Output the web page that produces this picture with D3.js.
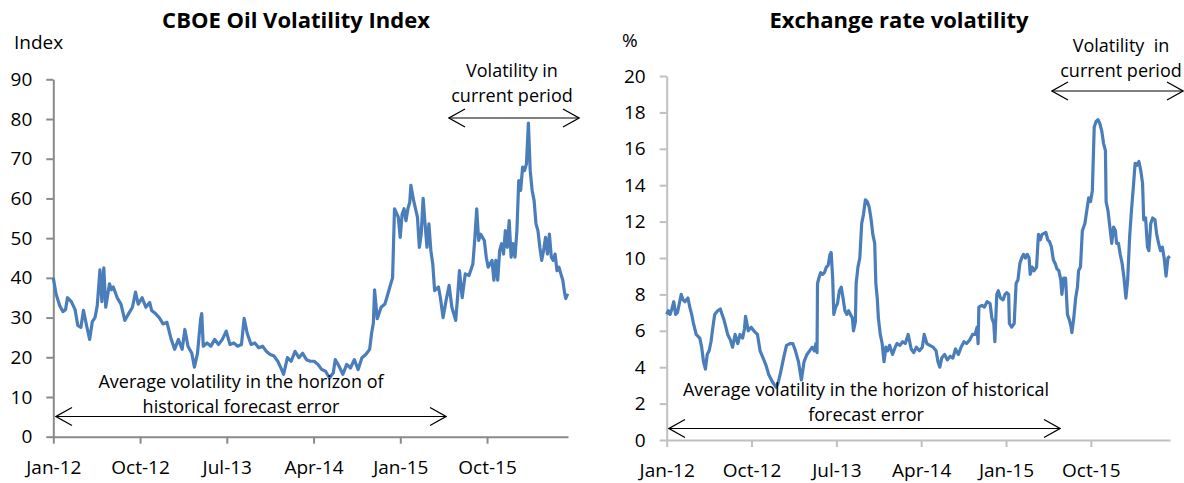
<!DOCTYPE html>
<html lang="en">
<head>
<meta charset="utf-8">
<title>Oil and exchange rate volatility</title>
<style>
  body { margin: 0; background: #fff; }
  svg text { font-family: "Open Sans", "Noto Sans", sans-serif; fill: #000; }
  .title { font-weight: bold; font-size: 22px; }
  .note { font-size: 18px; }
  .axis text { font-size: 19px; }
</style>
</head>
<body>
<script src="https://cdnjs.cloudflare.com/ajax/libs/d3/7.8.5/d3.min.js"></script>
<script>
// x positions are months since Jan 2012
const xTickMonths = [0, 9, 18, 27, 36, 45];
const xTickLabels = ['Jan-12', 'Oct-12', 'Jul-13', 'Apr-14', 'Jan-15', 'Oct-15'];
const lastMonth = 53.4;

const oilTicks = [0, 10, 20, 30, 40, 50, 60, 70, 80, 90];
const fxTicks = [0, 2, 4, 6, 8, 10, 12, 14, 16, 18, 20];

// CBOE oil volatility index
const oilMonths = [
  0, 0.28, 0.67, 0.99, 1.27, 1.47, 1.87, 2.26, 2.54, 2.86,
  3.13, 3.45, 3.77, 4.05, 4.33, 4.56, 4.84, 5.04, 5.24, 5.44,
  5.83, 6.03, 6.23, 6.63, 7.02, 7.42, 7.82, 8.21, 8.53, 8.81,
  9.21, 9.6, 10.0, 10.2, 10.6, 10.99, 11.39, 11.79, 12.18, 12.58,
  12.98, 13.37, 13.65, 13.97, 14.37, 14.64, 14.96, 15.28, 15.4, 15.56,
  15.95, 16.35, 16.75, 17.14, 17.54, 17.94, 18.33, 18.73, 19.13, 19.52,
  19.8, 20.12, 20.52, 20.91, 21.31, 21.71, 22.1, 22.5, 22.9, 23.29,
  23.69, 23.89, 24.29, 24.68, 25.08, 25.48, 25.87, 26.27, 26.67, 27.06,
  27.46, 27.86, 28.25, 28.65, 29.05, 29.25, 29.64, 30.04, 30.44, 30.83,
  31.23, 31.63, 32.02, 32.42, 32.82, 33.02, 33.21, 33.33, 33.61, 34.01,
  34.4, 34.6, 35.0, 35.2, 35.4, 35.79, 35.99, 36.19, 36.39, 36.59,
  36.79, 36.98, 37.1, 37.38, 37.58, 37.78, 37.98, 38.17, 38.37, 38.57,
  38.77, 38.97, 39.17, 39.37, 39.56, 39.96, 40.16, 40.44, 40.75, 41.07,
  41.35, 41.75, 41.94, 42.14, 42.42, 42.74, 43.13, 43.53, 43.73, 43.93,
  44.13, 44.33, 44.72, 44.92, 45.12, 45.52, 45.71, 45.91, 46.11, 46.31,
  46.51, 46.71, 46.9, 47.1, 47.3, 47.5, 47.7, 47.9, 48.1, 48.29,
  48.49, 48.69, 48.89, 49.09, 49.29, 49.48, 49.68, 49.88, 50.08, 50.28,
  50.48, 50.67, 50.87, 51.07, 51.27, 51.47, 51.67, 51.87, 52.06, 52.26,
  52.46, 52.66, 52.86, 53.06, 53.17, 53.37
];
const oilValues = [
  40, 36, 33, 31.5, 32, 35, 34, 32, 28, 27.5,
  31.8, 28, 24.5, 29, 30, 33, 42, 34, 42.5, 32.6,
  38.5, 37, 37.7, 35, 33.4, 29.3, 31, 32.6, 36.4, 33.4,
  35, 32.6, 33.8, 31.8, 31, 30, 28.4, 28.8, 25, 22,
  24.5, 22, 27, 22.8, 21, 17.5, 21, 29.5, 31, 22.8,
  23.6, 22.8, 24.5, 23.2, 24.5, 26.6, 23.2, 23.6, 22.8, 23.2,
  29.8, 26, 23.2, 23.6, 22.4, 22.8, 21.5, 20.7, 20.3, 19,
  16.9, 15.7, 19.9, 19, 21.5, 19.9, 21, 19.4, 19, 19,
  18.2, 16.9, 16.5, 14.8, 16.1, 19.4, 17.8, 15.7, 18.2, 17.3,
  19.4, 16.9, 19.9, 20.7, 22, 26, 28.7, 37, 29.7, 32.6,
  33.4, 35, 38.4, 40, 57.4, 55.3, 50.2, 56, 57.4, 54.4,
  57.4, 59, 63.3, 59.5, 57.4, 55.3, 47.7, 51, 60, 53.6,
  47.7, 53.6, 46.9, 43.5, 36.8, 37.7, 35, 30, 34.3, 38.1,
  32.6, 29.3, 35, 41.8, 35, 41, 40.6, 43.5, 49.8, 57.4,
  49.4, 51, 49.4, 45.2, 42.7, 44.4, 39.4, 44.4, 39.4, 46.9,
  48.6, 46, 51.9, 47.7, 54.4, 45.2, 48.6, 45.2, 51.9, 64.5,
  62, 67.9, 67, 68.7, 79, 67, 62, 59.5, 53.6, 51.9,
  47.7, 44.4, 46.9, 50.2, 46, 51, 45.2, 44.4, 46, 41.8,
  42.7, 41, 39.4, 36, 34.8, 36
];

// exchange rate volatility, %
const fxMonths = [
  0, 0.16, 0.36, 0.55, 0.75, 0.95, 1.14, 1.34, 1.54, 1.74,
  1.93, 2.25, 2.45, 2.65, 2.84, 3.04, 3.12, 3.51, 3.71, 3.91,
  4.11, 4.30, 4.50, 4.70, 4.90, 5.09, 5.41, 5.69, 5.88, 6.08,
  6.28, 6.47, 6.75, 6.99, 7.26, 7.54, 7.78, 8.05, 8.25, 8.37,
  8.65, 8.96, 9.24, 9.63, 9.91, 10.23, 10.54, 10.82, 11.21, 11.61,
  11.80, 12.08, 12.40, 12.71, 13.07, 13.38, 13.66, 13.98, 14.29, 14.57,
  14.88, 15.16, 15.44, 15.67, 15.83, 15.95, 16.0, 16.15, 16.34, 16.54,
  16.74, 16.94, 17.13, 17.33, 17.45, 17.61, 17.73, 17.93, 18.12, 18.32,
  18.52, 18.71, 18.91, 19.11, 19.30, 19.50, 19.70, 19.82, 20.02, 20.10,
  20.29, 20.49, 20.69, 20.88, 21.08, 21.28, 21.48, 21.67, 21.87, 22.07,
  22.19, 22.34, 22.46, 22.66, 22.86, 23.06, 23.25, 23.45, 23.65, 23.96,
  24.24, 24.44, 24.75, 25.03, 25.31, 25.62, 25.94, 26.21, 26.49, 26.81,
  27.12, 27.32, 27.60, 27.91, 28.27, 28.58, 28.78, 28.98, 29.18, 29.49,
  29.77, 30.08, 30.36, 30.64, 30.95, 31.23, 31.54, 31.82, 32.14, 32.45,
  32.73, 32.93, 33.04, 33.12, 33.44, 33.71, 33.99, 34.31, 34.50, 34.70,
  34.82, 35.02, 35.18, 35.41, 35.69, 35.89, 36.08, 36.28, 36.36, 36.60,
  36.87, 37.07, 37.27, 37.47, 37.66, 37.86, 38.06, 38.26, 38.45, 38.57,
  38.77, 38.97, 39.24, 39.44, 39.64, 39.83, 40.23, 40.43, 40.62, 40.82,
  41.02, 41.22, 41.41, 41.61, 41.81, 41.93, 42.12, 42.32, 42.52, 42.72,
  42.91, 42.99, 43.19, 43.39, 43.58, 43.70, 43.90, 44.10, 44.37, 44.57,
  44.77, 44.97, 45.16, 45.36, 45.56, 45.76, 45.95, 46.15, 46.35, 46.55,
  46.62, 46.82, 47.02, 47.22, 47.41, 47.61, 47.73, 47.93, 48.12, 48.32,
  48.52, 48.72, 48.91, 49.11, 49.31, 49.51, 49.70, 49.90, 50.10, 50.30,
  50.49, 50.61, 50.81, 51.01, 51.16, 51.36, 51.56, 51.80, 51.99, 52.19,
  52.39, 52.59, 52.78, 52.98, 53.18, 53.38
];
const fxValues = [
  6.9, 7.1, 6.9, 7.2, 7.6, 6.9, 7.0, 7.5, 8.0, 7.7,
  7.6, 7.8, 7.3, 6.9, 6.4, 6.0, 5.8, 5.6, 5.1, 4.3,
  3.9, 4.7, 4.9, 5.4, 6.2, 6.9, 7.1, 7.2, 6.9, 6.6,
  6.2, 5.8, 5.5, 5.1, 5.8, 5.3, 5.8, 5.6, 6.1, 6.8,
  6.0, 6.2, 6.0, 5.8, 4.9, 4.5, 4.1, 3.6, 3.2, 2.9,
  3.1, 3.7, 4.5, 5.2, 5.3, 5.3, 4.9, 4.3, 3.3, 4.3,
  4.7, 4.9, 5.1, 4.9, 5.3, 4.8, 8.6, 8.9, 9.2, 9.1,
  9.2, 9.5, 9.6, 10.2, 10.3, 8.9, 6.9, 7.3, 7.5, 8.2,
  8.4, 7.8, 7.1, 6.9, 7.1, 6.9, 6.7, 6.0, 6.5, 8.6,
  9.5, 10.0, 11.9, 12.4, 13.2, 13.1, 12.8, 12.2, 11.3, 10.8,
  8.6, 7.8, 6.7, 5.8, 5.3, 4.3, 5.1, 4.9, 5.2, 4.7,
  5.1, 5.3, 5.2, 5.4, 5.3, 5.8, 5.0, 4.8, 5.1, 4.9,
  5.1, 5.8, 5.3, 5.2, 5.1, 4.9, 4.3, 4.0, 4.5, 4.7,
  4.4, 4.6, 4.5, 5.0, 4.7, 5.1, 5.4, 5.3, 5.5, 5.8,
  5.8, 6.2, 5.3, 7.3, 7.4, 7.3, 7.6, 7.5, 6.7, 6.4,
  5.4, 8.0, 8.2, 7.8, 7.7, 8.0, 8.1, 8.0, 6.4, 6.2,
  6.4, 8.6, 8.8, 9.7, 10.0, 10.2, 10.0, 10.2, 10.0, 9.1,
  9.5, 9.3, 9.5, 11.3, 11.0, 11.3, 11.4, 11.0, 10.9, 10.6,
  9.9, 9.7, 9.4, 9.3, 8.8, 8.0, 8.9, 8.9, 6.9, 6.6,
  6.2, 5.9, 6.7, 7.8, 8.4, 9.3, 9.5, 11.5, 11.9, 12.6,
  13.3, 13.1, 13.7, 17.2, 17.5, 17.6, 17.4, 17.0, 16.3, 15.9,
  13.1, 12.6, 11.7, 10.8, 11.7, 11.5, 10.8, 10.8, 10.2, 9.7,
  8.9, 7.8, 8.8, 11.1, 12.6, 13.9, 15.2, 15.1, 15.3, 14.8,
  14.1, 12.1, 12.2, 10.6, 10.4, 11.9, 12.2, 12.1, 11.3, 10.8,
  10.4, 10.6, 10.0, 9.0, 10.0, 10.1
];

const lineColor = '#4a7ebb';

const svg = d3.select('body').append('svg')
  .attr('width', 1184)
  .attr('height', 483);

const defs = svg.append('defs');
// open chevron arrow heads
['start', 'end'].forEach(k => {
  defs.append('marker')
    .attr('id', 'arrow-' + k)
    .attr('viewBox', '0 0 18 20')
    .attr('refX', k === 'end' ? 17 : 1)
    .attr('refY', 10)
    .attr('markerWidth', 18)
    .attr('markerHeight', 20)
    .attr('markerUnits', 'userSpaceOnUse')
    .attr('orient', 'auto')
    .append('path')
    .attr('d', k === 'end' ? 'M1,1 L17,10 L1,19' : 'M17,1 L1,10 L17,19')
    .attr('fill', 'none')
    .attr('stroke', '#000')
    .attr('stroke-width', 1.2);
});

function drawPanel(o) {
  const g = svg.append('g');

  const x = d3.scaleLinear().domain([0, lastMonth]).range(o.xRange);
  const y = d3.scaleLinear().domain(o.yDomain).range(o.yRange);

  const yAxis = d3.axisLeft(y)
    .tickValues(o.yTicks)
    .tickSize(7)
    .tickSizeOuter(0)
    .tickPadding(14);
  const xAxis = d3.axisBottom(x)
    .tickValues(xTickMonths)
    .tickFormat((d, i) => xTickLabels[i])
    .tickSize(7)
    .tickSizeOuter(0)
    .tickPadding(17);

  const ya = g.append('g')
    .attr('class', 'axis')
    .attr('transform', `translate(${o.xRange[0]},0)`)
    .call(yAxis);
  const xa = g.append('g')
    .attr('class', 'axis')
    .attr('transform', `translate(0,${o.yRange[0]})`)
    .call(xAxis);
  [ya, xa].forEach(a => {
    a.selectAll('path, line').attr('stroke', o.axisColor).attr('stroke-width', 2);
    a.selectAll('text').attr('fill', '#000').style('font-family', '"Open Sans", sans-serif');
  });

  const pts = d3.zip(o.months, o.values);
  g.append('path')
    .datum(pts)
    .attr('fill', 'none')
    .attr('stroke', lineColor)
    .attr('stroke-width', 3.2)
    .attr('stroke-linejoin', 'round')
    .attr('d', d3.line().x(d => x(d[0])).y(d => y(d[1])));

  g.append('text')
    .attr('class', 'title')
    .attr('x', o.titleX)
    .attr('y', 22)
    .attr('text-anchor', 'middle')
    .attr('dominant-baseline', 'middle')
    .text(o.title);

  g.append('text')
    .attr('x', o.unitX)
    .attr('y', o.unitY)
    .attr('dominant-baseline', 'middle')
    .style('font-size', '19px')
    .text(o.unit);

  o.notes.forEach(n => {
    n.lines.forEach((t, i) => {
      g.append('text')
        .attr('class', 'note')
        .attr('x', n.cx)
        .attr('y', n.ys[i])
        .attr('text-anchor', 'middle')
        .attr('dominant-baseline', 'middle')
        .text(t);
    });
    g.append('line')
      .attr('x1', n.x1).attr('x2', n.x2)
      .attr('y1', n.ay).attr('y2', n.ay)
      .attr('stroke', '#000')
      .attr('stroke-width', 1.2)
      .attr('marker-start', 'url(#arrow-start)')
      .attr('marker-end', 'url(#arrow-end)');
  });
}

drawPanel({
  title: 'CBOE Oil Volatility Index',
  titleX: 296,
  unit: 'Index', unitX: 14, unitY: 44,
  xRange: [53.3, 568],
  yRange: [436.7, 79.3],
  yDomain: [0, 90],
  yTicks: oilTicks,
  axisColor: '#8a8a8a',
  months: oilMonths,
  values: oilValues,
  notes: [
    { lines: ['Volatility in', 'current period'], cx: 512, ys: [72, 97], x1: 449, x2: 579, ay: 118 },
    { lines: ['Average volatility in the horizon of', 'historical forecast error'], cx: 241, ys: [383, 408], x1: 56, x2: 446, ay: 416.5 }
  ]
});

drawPanel({
  title: 'Exchange rate volatility',
  titleX: 899,
  unit: '%', unitX: 622, unitY: 42,
  xRange: [666.7, 1170],
  yRange: [440, 76],
  yDomain: [0, 20],
  yTicks: fxTicks,
  axisColor: '#c0c0c0',
  months: fxMonths,
  values: fxValues,
  notes: [
    { lines: ['Volatility\u00a0 in', 'current period'], cx: 1121, ys: [47, 72], x1: 1052, x2: 1183, ay: 91 },
    { lines: ['Average volatility in the horizon of historical', 'forecast error'], cx: 866, ys: [391, 416], x1: 669, x2: 1060, ay: 428.5 }
  ]
});
</script>
</body>
</html>
